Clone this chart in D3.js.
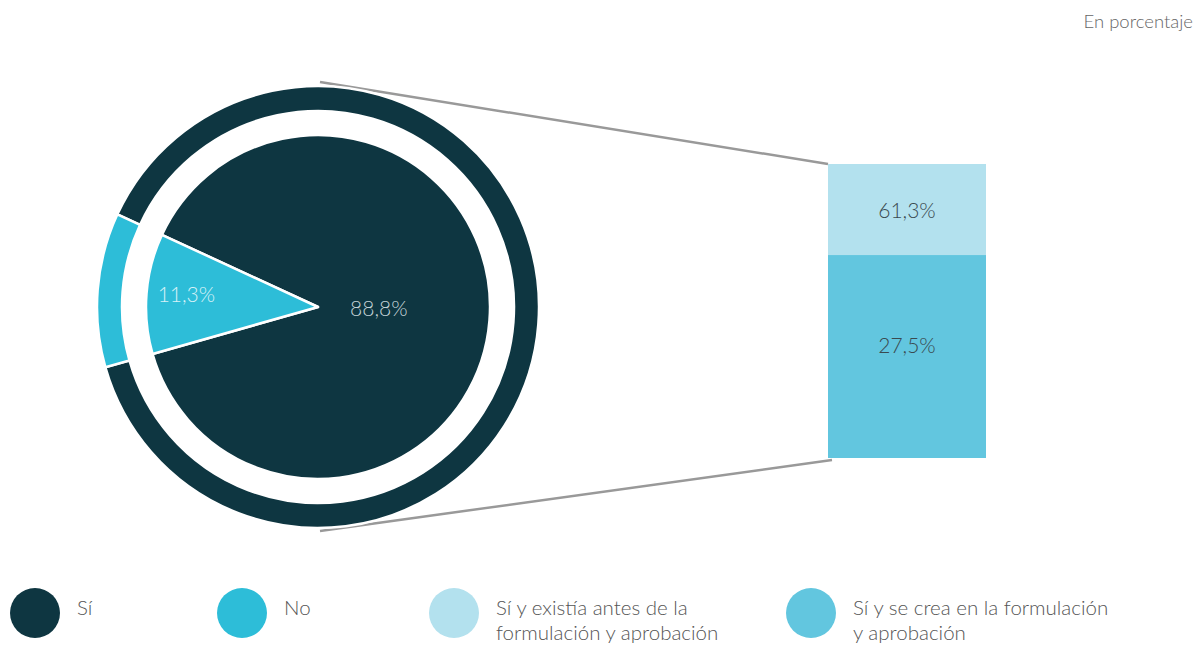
<!DOCTYPE html>
<html><head><meta charset="utf-8">
<script src="https://cdn.jsdelivr.net/npm/d3@7"></script>
<style>
html,body{margin:0;padding:0;background:#fff;}
svg{display:block;font-family:Lato,"Open Sans",sans-serif;}
</style></head>
<body>
<svg id="chart" width="1197" height="646"></svg>
<script>
// ---- data ----
const pieCategories = ["Sí", "No"];
const pieValues = [88.8, 11.3];
const pieLabels = ["88,8%", "11,3%"];
const barCategories = ["Sí y existía antes de la formulación y aprobación", "Sí y se crea en la formulación y aprobación"];
const barValues = [61.3, 27.5];
const barLabels = ["61,3%", "27,5%"];
const legendLines = [["Sí"], ["No"], ["Sí y existía antes de la", "formulación y aprobación"], ["Sí y se crea en la formulación", "y aprobación"]];
const unitNote = "En porcentaje";

// ---- styles ----
const pieColors = ["#0e3641", "#2dbdd8"];
const barColors = ["#b3e1ee", "#62c6df"];
const legendColors = pieColors.concat(barColors);

const svg = d3.select("#chart");
const cx = 318, cy = 307;
const rPie = 172, rRingIn = 196, rRingOut = 221;

const deg = Math.PI / 180;
const start = 294.8 * deg;
const pie = d3.pie().sort(null).startAngle(start).endAngle(start + 2 * Math.PI);
const arcs = pie(pieValues);

const g = svg.append("g").attr("transform", `translate(${cx},${cy})`);

// scales for the bar
const x = d3.scaleBand().domain(["bar"]).range([828, 986]).paddingInner(0).paddingOuter(0);
const total = d3.sum(barValues);
const y = d3.scaleLinear().domain([0, total]).range([458, 164]);

// connector lines (behind)
svg.insert("line", "g").attr("x1", 320).attr("y1", 82).attr("x2", x("bar")).attr("y2", y(total))
  .attr("stroke", "#999").attr("stroke-width", 2.5);
svg.insert("line", "g").attr("x1", 320).attr("y1", 531).attr("x2", x("bar") + 4).attr("y2", y(0) + 2)
  .attr("stroke", "#999").attr("stroke-width", 2.5);

// outer ring
const ringArc = d3.arc().innerRadius(rRingIn).outerRadius(rRingOut);
g.selectAll("path.ring").data(arcs).join("path").attr("class", "ring")
  .attr("d", ringArc).attr("fill", (d, i) => pieColors[i]).attr("stroke", "#fff").attr("stroke-width", 2.5);

// pie
const pieArc = d3.arc().innerRadius(0).outerRadius(rPie);
g.selectAll("path.slice").data(arcs).join("path").attr("class", "slice")
  .attr("d", pieArc).attr("fill", (d, i) => pieColors[i]).attr("stroke", "#fff").attr("stroke-width", 2.5).attr("stroke-linejoin", "round");

// pie labels
const labelR = [61, 132];
const labelColors = ["#c3d2d6", "#d6f1f7"];
g.selectAll("text.pl").data(arcs).join("text").attr("class", "pl")
  .attr("x", (d, i) => { const a = (d.startAngle + d.endAngle) / 2; return labelR[i] * Math.sin(a); })
  .attr("y", (d, i) => { const a = (d.startAngle + d.endAngle) / 2; return i === 0 ? 0 : -labelR[i] * Math.cos(a) - 3; })
  .attr("text-anchor", "middle").attr("dominant-baseline", "central")
  .attr("font-size", 21).attr("font-weight", 300).attr("fill", (d, i) => labelColors[i])
  .text((d, i) => pieLabels[i]);

// stacked bar (segment heights as drawn in the reference, top to bottom)
const heightValues = barValues.slice().reverse();
let acc = total;
const segs = barValues.map((v, i) => {
  const top = acc; acc -= heightValues[i];
  return { top, bottom: acc, label: barLabels[i], color: barColors[i] };
});
svg.selectAll("rect.seg").data(segs).join("rect").attr("class", "seg")
  .attr("x", x("bar")).attr("width", x.bandwidth())
  .attr("y", d => y(d.top)).attr("height", d => y(d.bottom) - y(d.top))
  .attr("fill", d => d.color);
svg.selectAll("text.seg").data(segs).join("text").attr("class", "seg")
  .attr("x", x("bar") + x.bandwidth() / 2)
  .attr("y", d => (y(d.top) + y(d.bottom)) / 2 - (d.top === total ? 0 : 12))
  .attr("text-anchor", "middle").attr("dominant-baseline", "central")
  .attr("font-size", 21).attr("font-weight", 300).attr("fill", "#3a4a50")
  .text(d => d.label);

// unit note
svg.append("text").attr("x", 1193).attr("y", 21).attr("text-anchor", "end").attr("dominant-baseline", "central")
  .attr("font-size", 18.5).attr("font-weight", 300).attr("fill", "#666").text(unitNote);

// legend
const legX = [35, 242, 454, 811];
const lg = svg.selectAll("g.leg").data(legendLines).join("g").attr("class", "leg")
  .attr("transform", (d, i) => `translate(${legX[i]},613)`);
lg.append("circle").attr("r", 25).attr("fill", (d, i) => legendColors[i]);
lg.each(function(lines) {
  const t = d3.select(this).append("text").attr("font-size", 20.5).attr("font-weight", 300).attr("fill", "#555");
  lines.forEach((ln, j) => t.append("tspan").attr("x", 42).attr("y", -6 + j * 25).attr("dominant-baseline", "central").text(ln));
});
</script>
</body></html>
